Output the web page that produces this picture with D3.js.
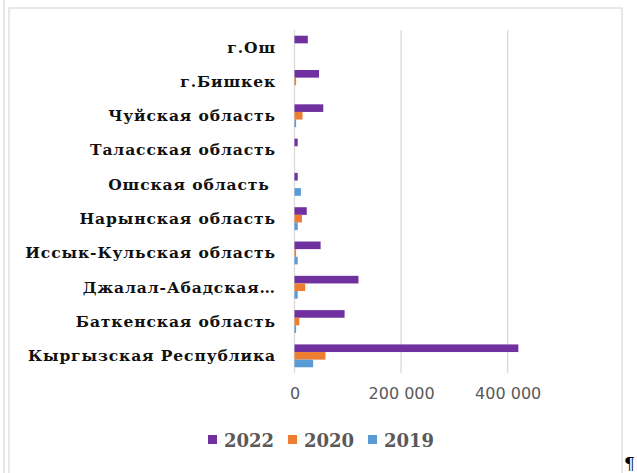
<!DOCTYPE html>
<html><head><meta charset="utf-8">
<script src="https://cdn.jsdelivr.net/npm/d3@7"></script>
<style>body{margin:0;background:#fff;} svg{display:block;}</style>
</head><body>
<svg id="c" width="637" height="473"></svg>
<script>
const categories = ["г.Ош","г.Бишкек","Чуйская область","Таласская область","Ошская область ","Нарынская область","Иссык-Кульская область","Джалал-Абадская…","Баткенская область","Кыргызская Республика"];
const seriesNames = ["2022","2020","2019"];
const values2022 = [25000,46000,54000,6000,6000,23000,49000,120000,94000,420000];
const values2020 = [0,3000,15000,0,0,14000,3000,20000,9000,58000];
const values2019 = [0,0,3000,0,12000,6000,6000,6000,3000,35000];
const tickValues = [0,200000,400000];
const colors = ["#7030A0","#ED7D31","#5B9BD5"];

const svg = d3.select("#c");
// frames
svg.append("line").attr("x1",4).attr("x2",4).attr("y1",0).attr("y2",473).attr("stroke","#d9d9d9").attr("stroke-width",1.2);
svg.append("rect").attr("x",9).attr("y",8).attr("width",613).attr("height",480).attr("fill","none").attr("stroke","#d9d9d9").attr("stroke-width",1.2);

const x = d3.scaleLinear().domain([0,500000]).range([294.5,561]);
const y = d3.scaleBand().domain(categories).range([30,373]);
const seriesData = [values2022, values2020, values2019];
const sub = d3.scaleBand().domain(seriesNames).range([0,y.bandwidth()]).paddingOuter(0.75);

// gridlines
svg.append("g").selectAll("line").data(tickValues).join("line")
  .attr("x1",d=>x(d)).attr("x2",d=>x(d)).attr("y1",30).attr("y2",373)
  .attr("stroke","#d9d9d9").attr("stroke-width",1.3);

// tick labels
const xAxis = d3.axisBottom(x).tickValues(tickValues).tickSize(0)
  .tickFormat(d=>d3.format(",")(d).replace(/,/g," "));
const ax = svg.append("g").attr("transform","translate(0,385)").call(xAxis);
ax.select(".domain").remove();
ax.selectAll("text").attr("fill","#595959").attr("font-family","DejaVu Sans, sans-serif").attr("font-size",16).attr("dy","0.71em");

// bars
seriesNames.forEach((s,i)=>{
  svg.append("g").selectAll("rect").data(categories).join("rect")
    .attr("x",x(0)).attr("y",c=>y(c)+sub(s))
    .attr("width",(c,j)=>x(seriesData[i][j])-x(0))
    .attr("height",sub.bandwidth())
    .attr("fill",colors[i]);
});

// category labels
svg.append("g").selectAll("text").data(categories).join("text")
  .attr("x",276).attr("y",c=>y(c)+y.bandwidth()/2).attr("dy","0.35em")
  .attr("text-anchor","end").attr("font-family","DejaVu Serif, serif").attr("font-weight","bold")
  .attr("font-size",15.5).attr("letter-spacing","0.9px").attr("fill","#111").style("white-space","pre").text(c=>c);

// legend
const lg = svg.append("g");
const legX = [208,288,368];
seriesNames.forEach((s,i)=>{
  lg.append("rect").attr("x",legX[i]).attr("y",435).attr("width",9).attr("height",9).attr("fill",colors[i]);
  lg.append("text").attr("x",legX[i]+16).attr("y",447).attr("font-family","DejaVu Serif, serif")
    .attr("font-size",18).attr("fill","#595959").attr("font-weight","bold").text(s);
});

svg.append("text").attr("x",624).attr("y",469).attr("font-family","DejaVu Serif, serif").attr("font-size",17).attr("fill","#000").text("¶");
</script>
</body></html>
